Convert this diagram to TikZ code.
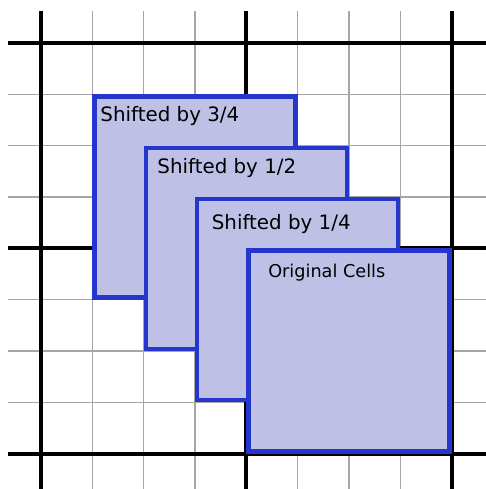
\documentclass[tikz,border=0pt]{standalone}
\usepackage{fontspec}
\setmainfont{DejaVu Sans}
\usetikzlibrary{positioning}
\definecolor{cellblue}{RGB}{36,54,204}
\definecolor{cellfill}{RGB}{191,192,230}
\tikzset{
  minor/.style   = {draw=gray!70, line width=0.7pt},
  major/.style   = {draw=black, line width=2.2pt},
  cellbox/.style = {draw=cellblue, fill=cellfill, line width=2.4pt, inner sep=0pt,
                    outer sep=0pt, minimum size=3.92cm},
  lbl/.style     = {anchor=base west, inner sep=0pt, font=\fontsize{11}{13}\selectfont},
}

\begin{document}
\begin{tikzpicture}
  \useasboundingbox (-0.8,-0.689) rectangle (8.663,8.838);
  % grid
  \foreach \k in {0,...,8} {
    \draw[minor] (\k,-0.75) -- (\k,8.625);
    \draw[minor] (-0.64,\k) -- (8.75,\k);
  }
  \foreach \k in {0,4,8} {
    \draw[major] (\k,-0.75) -- (\k,8.625);
    \draw[major] (-0.64,\k) -- (8.75,\k);
  }
  % cells, back to front
  \foreach \n/\x/\y in {s3/3/5, s2/4/4, s1/5/3, orig/6/2} {
    \node[cellbox] (\n) at (\x,\y) {};
  }
  \node[lbl] (l3) at ([shift={(0.11,-0.48)}]s3.north west) {Shifted by 3/4};
  \node[lbl] (l2) at ([shift={(0.22,-0.50)}]s2.north west) {Shifted by 1/2};
  \node[lbl] (l1) at ([shift={(0.28,-0.59)}]s1.north west) {Shifted by 1/4};
  \node[lbl, font=\fontsize{9.8}{12}\selectfont] (lo) at ([shift={(0.38,-0.525)}]orig.north west) {Original Cells};
\end{tikzpicture}
\end{document}
